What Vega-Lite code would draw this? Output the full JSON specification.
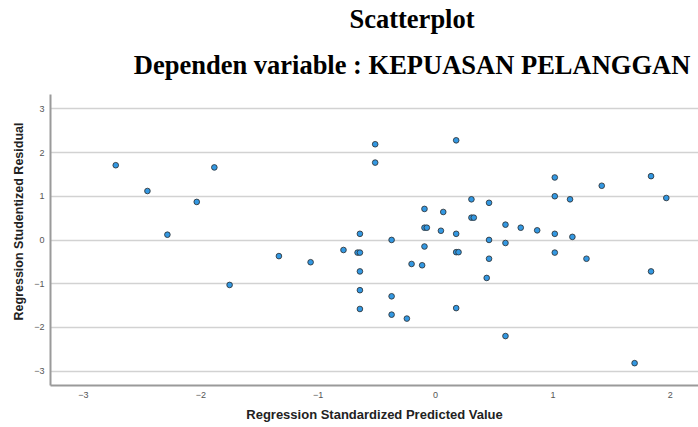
{
  "$schema": "https://vega.github.io/schema/vega-lite/v6.json",
  "width": 648,
  "height": 291,
  "autosize": "none",
  "padding": {"left": 50, "top": 94, "right": 0, "bottom": 42},
  "background": "white",
  "title": {
    "text": ["Scatterplot", "Dependen variable : KEPUASAN PELANGGAN"],
    "font": "Liberation Serif",
    "fontSize": 26.5,
    "fontWeight": "bold",
    "color": "#000000",
    "lineHeight": 46,
    "anchor": "middle",
    "dx": 38,
    "offset": 15
  },
  "data": {
    "values": [
      {"x": -2.72, "y": 1.70}, {"x": -2.45, "y": 1.11}, {"x": -2.28, "y": 0.11},
      {"x": -2.03, "y": 0.86}, {"x": -1.88, "y": 1.65}, {"x": -1.75, "y": -1.04},
      {"x": -1.33, "y": -0.38}, {"x": -1.06, "y": -0.52}, {"x": -0.78, "y": -0.24},
      {"x": -0.66, "y": -0.30}, {"x": -0.64, "y": -0.30}, {"x": -0.64, "y": 0.13},
      {"x": -0.64, "y": -0.73}, {"x": -0.64, "y": -1.16}, {"x": -0.64, "y": -1.59},
      {"x": -0.51, "y": 2.18}, {"x": -0.51, "y": 1.76}, {"x": -0.37, "y": -0.01},
      {"x": -0.37, "y": -1.30}, {"x": -0.37, "y": -1.72}, {"x": -0.24, "y": -1.81},
      {"x": -0.20, "y": -0.56}, {"x": -0.11, "y": -0.59}, {"x": -0.09, "y": 0.70},
      {"x": -0.09, "y": 0.27}, {"x": -0.07, "y": 0.27}, {"x": -0.09, "y": -0.16},
      {"x": 0.05, "y": 0.20}, {"x": 0.07, "y": 0.63}, {"x": 0.18, "y": 2.27},
      {"x": 0.18, "y": 0.13}, {"x": 0.18, "y": -0.29}, {"x": 0.20, "y": -0.29},
      {"x": 0.18, "y": -1.57}, {"x": 0.31, "y": 0.92}, {"x": 0.31, "y": 0.50},
      {"x": 0.33, "y": 0.50}, {"x": 0.46, "y": 0.84}, {"x": 0.46, "y": -0.01},
      {"x": 0.46, "y": -0.44}, {"x": 0.44, "y": -0.88}, {"x": 0.60, "y": 0.34},
      {"x": 0.60, "y": -0.08}, {"x": 0.60, "y": -2.21}, {"x": 0.73, "y": 0.27},
      {"x": 0.87, "y": 0.21}, {"x": 1.02, "y": 1.42}, {"x": 1.02, "y": 0.99},
      {"x": 1.02, "y": 0.13}, {"x": 1.02, "y": -0.30}, {"x": 1.15, "y": 0.92},
      {"x": 1.17, "y": 0.06}, {"x": 1.29, "y": -0.44}, {"x": 1.42, "y": 1.23},
      {"x": 1.70, "y": -2.83}, {"x": 1.84, "y": 1.45}, {"x": 1.84, "y": -0.73},
      {"x": 1.97, "y": 0.95}
    ]
  },
  "mark": {
    "type": "circle",
    "size": 32,
    "fill": "#3398e2",
    "stroke": "#2b2b2b",
    "strokeWidth": 0.8,
    "opacity": 1
  },
  "encoding": {
    "x": {
      "field": "x",
      "type": "quantitative",
      "scale": {"domain": [-3.28, 2.24], "nice": false, "zero": false},
      "axis": {
        "values": [-3, -2, -1, 0, 1, 2],
        "grid": false,
        "ticks": false,
        "tickSize": 0,
        "domainColor": "#9a9a9a",
        "domainWidth": 2,
        "labelFont": "Liberation Sans",
        "labelFontSize": 9,
        "labelColor": "#555555",
        "labelPadding": 5,
        "title": "Regression Standardized Predicted Value",
        "titleFont": "Liberation Sans",
        "titleFontSize": 13,
        "titleFontWeight": "bold",
        "titleColor": "#222222",
        "titleBaseline": "middle",
        "titleY": 29
      }
    },
    "y": {
      "field": "y",
      "type": "quantitative",
      "scale": {"domain": [-3.33, 3.33], "nice": false, "zero": false},
      "axis": {
        "values": [-3, -2, -1, 0, 1, 2, 3],
        "grid": true,
        "gridColor": "#d2d2d2",
        "gridWidth": 1.3,
        "ticks": false,
        "tickSize": 0,
        "domainColor": "#9a9a9a",
        "domainWidth": 2,
        "labelFont": "Liberation Sans",
        "labelFontSize": 9,
        "labelColor": "#555555",
        "labelPadding": 6,
        "title": "Regression Studentized Residual",
        "titleFont": "Liberation Sans",
        "titleFontSize": 12.5,
        "titleFontWeight": "bold",
        "titleColor": "#222222",
        "titleAngle": -90,
        "titleBaseline": "middle",
        "titleAlign": "center",
        "titleX": -32,
        "titleY": 127
      }
    }
  },
  "config": {
    "view": {"stroke": null}
  }
}
